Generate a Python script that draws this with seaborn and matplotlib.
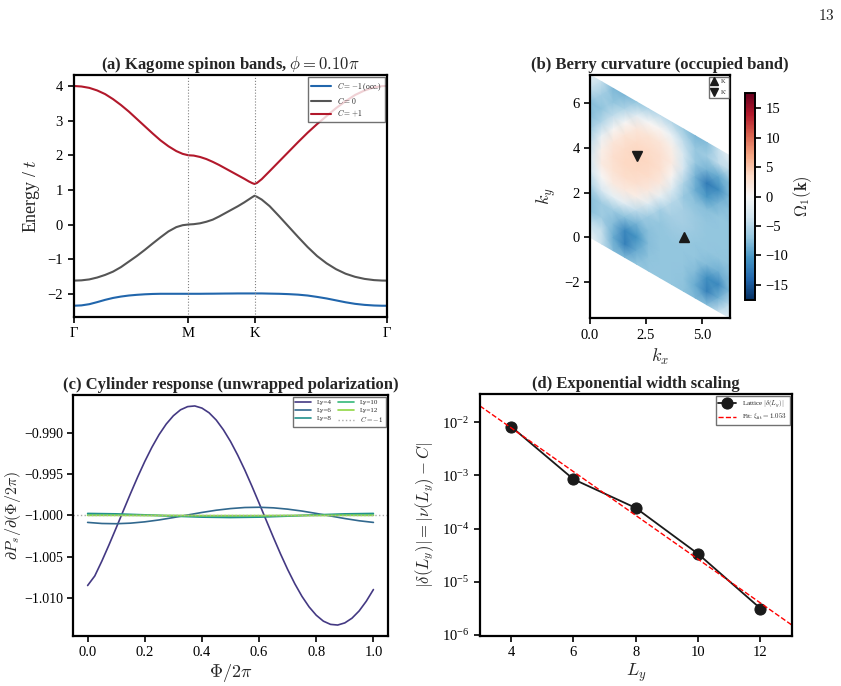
import numpy as np
import matplotlib
matplotlib.use("Agg")
import matplotlib.pyplot as plt
from matplotlib.ticker import NullLocator, FuncFormatter
import seaborn as sns

# ---------------- data ----------------

# (a) bands along Gamma-M-K-Gamma (path length coordinate)
k_path = [0.0, 0.25, 0.5, 0.75, 1.0, 1.25, 1.5, 1.75, 2.0, 2.25, 2.5, 2.75, 3.0, 3.25, 3.45, 3.628,
          3.8, 4.0, 4.2, 4.4, 4.6, 4.8, 5.0, 5.2, 5.4, 5.55, 5.65, 5.722,
          5.8, 5.95, 6.2, 6.5, 6.8, 7.1, 7.4, 7.7, 8.0, 8.3, 8.6, 8.9, 9.2, 9.5, 9.75, 9.911]
band_top = [4.00, 3.985, 3.945, 3.87, 3.765, 3.62, 3.45, 3.26, 3.05, 2.84, 2.63, 2.43, 2.26, 2.12, 2.04, 2.00,
            1.99, 1.95, 1.89, 1.81, 1.72, 1.62, 1.52, 1.42, 1.32, 1.24, 1.195, 1.17,
            1.20, 1.31, 1.54, 1.82, 2.10, 2.38, 2.65, 2.90, 3.13, 3.36, 3.56, 3.74, 3.87, 3.96, 3.995, 4.00]
band_mid = [-1.62, -1.612, -1.585, -1.53, -1.455, -1.36, -1.23, -1.07, -0.91, -0.735, -0.55, -0.37, -0.20,
            -0.075, -0.02, 0.0,
            0.01, 0.035, 0.08, 0.14, 0.23, 0.33, 0.43, 0.53, 0.64, 0.73, 0.79, 0.83,
            0.80, 0.72, 0.53, 0.24, -0.06, -0.36, -0.65, -0.91, -1.12, -1.29, -1.42, -1.51, -1.57, -1.605,
            -1.618, -1.62]
band_low = [-2.345, -2.335, -2.30, -2.24, -2.175, -2.12, -2.08, -2.05, -2.03, -2.015, -2.005, -2.0, -2.0,
            -2.0, -2.0, -2.0,
            -2.0, -2.0, -1.998, -1.997, -1.995, -1.993, -1.992, -1.99, -1.99, -1.99, -1.99, -1.99,
            -1.99, -1.99, -1.995, -2.0, -2.01, -2.025, -2.05, -2.09, -2.135, -2.19, -2.245, -2.29, -2.32,
            -2.338, -2.345, -2.345]
hs_pos = [0.0, 3.628, 5.722, 9.911]
hs_labels = ["Γ", "M", "K", "Γ"]

# (b) Berry curvature on a 13x13 grid of reduced coordinates (rows: along b1, cols: along b2)
berry = [
    [-1.0, -4.1, -7.4, -7.3, -5.3, -3.4, -3.1, -4.4, -6.4, -7.6, -7.5, -4.2, -1.0],
    [-4.2, -4.2, -6.2, -6.3, -2.7, 0.2, 1.6, 1.0, -1.2, -5.1, -7.1, -6.2, -4.2],
    [-7.9, -8.9, -7.6, -6.2, -1.5, 1.7, 2.7, 2.9, 2.2, 0.2, -4.5, -7.1, -7.9],
    [-8.0, -12.1, -11.5, -7.2, -1.9, 1.9, 3.2, 3.6, 3.4, 2.6, 0.0, -5.4, -8.1],
    [-6.9, -8.7, -10.5, -8.3, -4.5, 1.1, 3.0, 3.7, 3.9, 3.3, 2.1, -1.9, -6.9],
    [-7.0, -7.1, -7.5, -7.4, -6.6, -2.0, 1.9, 3.2, 3.6, 3.4, 2.6, 0.0, -5.4],
    [-7.0, -7.0, -7.0, -7.0, -7.0, -6.1, -1.5, 1.8, 2.8, 2.9, 2.2, 0.3, -4.5],
    [-7.0, -7.0, -7.0, -7.0, -6.5, -6.0, -5.2, -2.6, 0.3, 1.6, 1.1, -1.1, -5.0],
    [-7.2, -7.1, -7.0, -7.0, -6.5, -6.0, -6.0, -6.7, -5.4, -3.3, -3.0, -4.3, -6.4],
    [-8.0, -8.9, -7.6, -7.0, -7.0, -6.5, -6.5, -7.2, -8.8, -8.3, -6.7, -6.7, -8.0],
    [-7.7, -12.0, -11.0, -7.6, -7.0, -7.0, -7.0, -7.3, -10.2, -12.5, -8.2, -6.2, -7.7],
    [-4.1, -8.5, -11.3, -8.5, -7.1, -7.0, -7.0, -7.0, -8.0, -11.1, -9.0, -4.3, -4.1],
    [-1.0, -4.1, -7.4, -7.7, -7.1, -7.0, -7.0, -7.0, -7.1, -7.5, -7.5, -4.2, -1.0],
]
k_point = [4.189, 0.0]
kp_point = [2.094, 3.628]
cbar_lim = 17.6

# (c) polarization derivative vs flux
phi_fine = np.linspace(0, 1, 41)
ly4 = [-1.0085, -1.00734, -1.00552, -1.00355, -1.00150, -0.99941, -0.99734, -0.99533,
       -0.99344, -0.99171, -0.99018, -0.98890, -0.98789, -0.98717, -0.98678, -0.98670,
       -0.98696, -0.98753, -0.98841, -0.98959, -0.99101, -0.99266, -0.99448, -0.99645,
       -0.99850, -1.00059, -1.00266, -1.00467, -1.00656, -1.00829, -1.00982, -1.01110,
       -1.01211, -1.01283, -1.01322, -1.01330, -1.01304, -1.01247, -1.01159, -1.01041,
       -1.00899]
phi_mid = np.linspace(0, 1, 21)
ly6 = [-1.00084, -1.00097, -1.00100, -1.00093, -1.00077, -1.00054, -1.00025, -0.99994,
       -0.99963, -0.99936, -0.99916, -0.99903, -0.99900, -0.99907, -0.99923, -0.99946,
       -0.99975, -1.00006, -1.00037, -1.00064, -1.00084]
phi_coarse = np.linspace(0, 1, 11)
ly8 = [-0.99975, -0.99980, -0.99992, -1.00008, -1.00020, -1.00025, -1.00020, -1.00008,
       -0.99992, -0.99980, -0.99975]
ly10 = [-0.99994, -0.99995, -0.99998, -1.00002, -1.00005, -1.00006, -1.00005, -1.00002,
        -0.99998, -0.99995, -0.99994]
ly12 = [-0.99999, -0.99999, -1.0, -1.0, -1.00001, -1.00001, -1.00001, -1.0, -1.0,
        -0.99999, -0.99999]
chern = -1.0

# (d) width scaling
Ly = [4, 6, 8, 10, 12]
delta = [8.3e-3, 8.5e-4, 2.45e-4, 3.35e-5, 3.15e-6]
fit_L = [3, 13]
fit_delta = [2.03e-2, 1.55e-6]
xi_fit = 1.053

# ---------------- style ----------------
sns.set_theme(style="ticks", rc={
    "axes.linewidth": 1.6,
    "xtick.major.width": 1.2,
    "ytick.major.width": 1.2,
    "xtick.major.size": 4,
    "ytick.major.size": 4,
    "xtick.labelsize": 10.5,
    "ytick.labelsize": 10.5,
    "axes.edgecolor": "black",
    "xtick.color": "black",
    "ytick.color": "black",
})
plt.rcParams["font.family"] = ["Liberation Serif", "DejaVu Serif"]
plt.rcParams["mathtext.fontset"] = "cm"

fig = plt.figure(figsize=(8.41, 6.86), dpi=100)
ax_a = fig.add_axes([0.0874, 0.5383, 0.3728, 0.3524])
ax_b = fig.add_axes([0.7015, 0.5359, 0.1671, 0.3548])
cax = fig.add_axes([0.8858, 0.5627, 0.0119, 0.3017])
ax_c = fig.add_axes([0.0872, 0.0729, 0.3738, 0.3513])
ax_d = fig.add_axes([0.5707, 0.0733, 0.3706, 0.3523])

title_kw = dict(fontsize=12, fontweight="bold", pad=4)
leg_kw = dict(fancybox=False, edgecolor="0.3", borderaxespad=0.3, borderpad=0.35)

# ---------------- (a) bands ----------------
sns.lineplot(x=k_path, y=band_low, ax=ax_a, color="#2166ac", lw=1.5, label=r"$C=-1$ (occ.)")
sns.lineplot(x=k_path, y=band_mid, ax=ax_a, color="#555555", lw=1.5, label=r"$C=0$")
sns.lineplot(x=k_path, y=band_top, ax=ax_a, color="#b2182b", lw=1.5, label=r"$C=+1$")
for xv in hs_pos[1:3]:
    ax_a.axvline(xv, color="gray", ls=":", lw=0.8)
ax_a.set_xlim(hs_pos[0], hs_pos[-1])
ax_a.set_xticks(hs_pos)
ax_a.set_xticklabels(hs_labels)
ax_a.set_yticks([-2, -1, 0, 1, 2, 3, 4])
ax_a.set_ylabel(r"Energy / $t$", fontsize=13)
ax_a.set_title(r"(a) Kagome spinon bands, $\phi = 0.10\pi$", **title_kw)
ax_a.legend(loc="upper right", fontsize=5.5, labelspacing=0.3, handlelength=2.6, **leg_kw)

# ---------------- (b) Berry curvature ----------------
b1 = np.array([2 * np.pi, -2 * np.pi / np.sqrt(3)])
b2 = np.array([0.0, 4 * np.pi / np.sqrt(3)])
grid = np.linspace(0, 1, len(berry))
S, T = np.meshgrid(grid, grid, indexing="ij")
KX = S * b1[0] + T * b2[0]
KY = S * b1[1] + T * b2[1]
mesh = ax_b.pcolormesh(KX, KY, np.array(berry), shading="gouraud", cmap="RdBu_r",
                       vmin=-cbar_lim, vmax=cbar_lim, rasterized=True)
ax_b.plot(*k_point, "^", color="k", ms=7, ls="none", label="K")
ax_b.plot(*kp_point, "v", color="k", ms=7, ls="none", label="K'")
ax_b.set_aspect("equal")
ax_b.set_xlim(0, b1[0])
ax_b.set_ylim(b1[1], b2[1])
ax_b.set_xticks([0.0, 2.5, 5.0])
ax_b.set_yticks([-2, 0, 2, 4, 6])
ax_b.set_xlabel(r"$k_x$", fontsize=13)
ax_b.set_ylabel(r"$k_y$", fontsize=13)
ax_b.set_title("(b) Berry curvature (occupied band)", **title_kw)
ax_b.legend(loc="upper right", fontsize=4.5, handlelength=1.0, handletextpad=0.6,
            labelspacing=0.9, markerscale=0.9, **leg_kw)
cb = fig.colorbar(mesh, cax=cax)
cb.set_ticks([-15, -10, -5, 0, 5, 10, 15])
cb.ax.tick_params(labelsize=10.5)
cb.set_label(r"$\Omega_1(\mathbf{k})$", fontsize=12, labelpad=2)
cb.outline.set_linewidth(1.4)

# ---------------- (c) cylinder response ----------------
pal = sns.color_palette("viridis", 5)
sns.lineplot(x=phi_fine, y=ly4, ax=ax_c, color=pal[0], lw=1.2, label="Ly=4")
sns.lineplot(x=phi_mid, y=ly6, ax=ax_c, color=pal[1], lw=1.2, label="Ly=6")
sns.lineplot(x=phi_coarse, y=ly8, ax=ax_c, color=pal[2], lw=1.2, label="Ly=8")
sns.lineplot(x=phi_coarse, y=ly10, ax=ax_c, color=pal[3], lw=1.2, label="Ly=10")
sns.lineplot(x=phi_coarse, y=ly12, ax=ax_c, color=pal[4], lw=1.2, label="Ly=12")
ax_c.axhline(chern, color="#aaaaaa", ls=":", lw=1.0, label=r"$C=-1$")
ax_c.set_xticks([0.0, 0.2, 0.4, 0.6, 0.8, 1.0])
ax_c.set_yticks([-1.010, -1.005, -1.000, -0.995, -0.990])
ax_c.yaxis.set_major_formatter(FuncFormatter(lambda v, p: f"{v:.3f}".replace("-", "\u2212")))
ax_c.tick_params(axis="y", labelsize=10, pad=3)
ax_c.set_xlabel(r"$\Phi/2\pi$", fontsize=13, labelpad=2)
ax_c.set_ylabel(r"$\partial P_s/\partial(\Phi/2\pi)$", fontsize=11.5, labelpad=1)
ax_c.set_title("(c) Cylinder response (unwrapped polarization)", **title_kw)
ax_c.legend(loc="upper right", ncol=2, fontsize=5, handlelength=2.3, columnspacing=1.0,
            labelspacing=0.3, **leg_kw)

# ---------------- (d) exponential scaling ----------------
ax_d.set_yscale("log")
sns.lineplot(x=Ly, y=delta, ax=ax_d, color="k", lw=1.3, marker="o", markersize=8,
             markeredgecolor="k", label=r"Lattice $|\delta(L_y)|$")
sns.lineplot(x=fit_L, y=fit_delta, ax=ax_d, color="red", lw=1.0, ls="--",
             label=r"Fit: $\xi_{\rm fit}=%.3f$" % xi_fit)
ax_d.set_xlim(3, 13)
ax_d.set_ylim(9.7e-7, 3.4e-2)
ax_d.set_xticks([4, 6, 8, 10, 12])
ax_d.yaxis.set_minor_locator(NullLocator())
ax_d.set_xlabel(r"$L_y$", fontsize=13, labelpad=2)
ax_d.set_ylabel(r"$|\delta(L_y)| = |\nu(L_y) - C|$", fontsize=12)
ax_d.set_title("(d) Exponential width scaling", **title_kw)
ax_d.legend(loc="upper right", fontsize=5, handlelength=2.6, labelspacing=0.3, **leg_kw)

fig.text(0.992, 0.978, r"$\mathrm{13}$", ha="right", va="center", fontsize=11)

fig.savefig("out.png", dpi=100)
